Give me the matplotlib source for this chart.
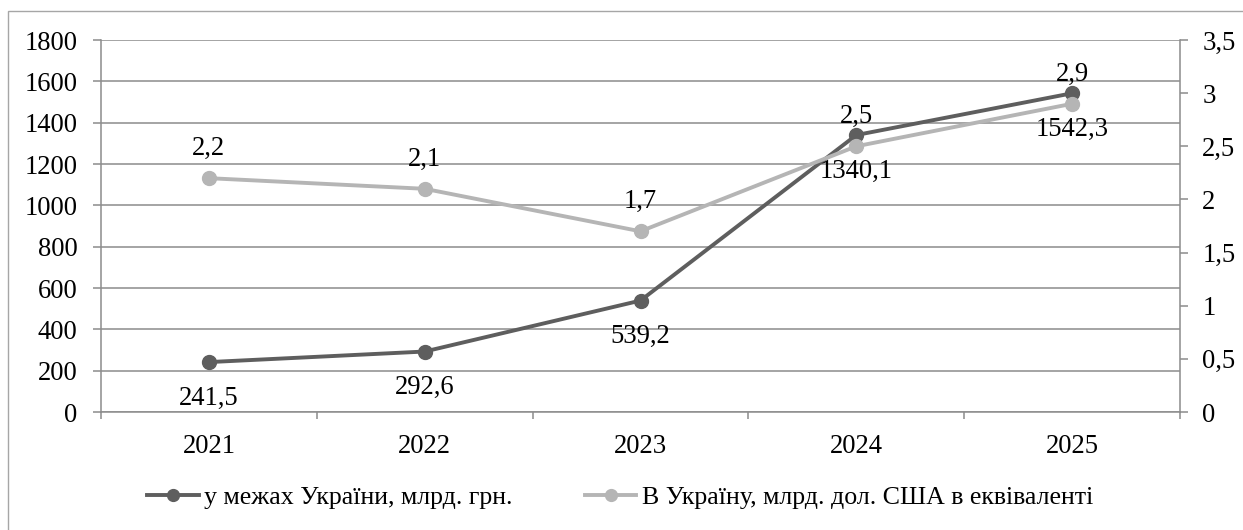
import matplotlib
matplotlib.use("Agg")
import matplotlib.pyplot as plt
from matplotlib.patches import Rectangle
from matplotlib.ticker import FixedLocator, FuncFormatter

plt.rcParams['font.family'] = ['Liberation Serif', 'DejaVu Serif']

years = ['2021', '2022', '2023', '2024', '2025']
uah_bn = [241.5, 292.6, 539.2, 1340.1, 1542.3]
usd_bn = [2.2, 2.1, 1.7, 2.5, 2.9]
left_ticks = [0, 200, 400, 600, 800, 1000, 1200, 1400, 1600, 1800]
right_ticks = [0, 0.5, 1, 1.5, 2, 2.5, 3, 3.5]

label_uah = 'у межах України, млрд. грн.'
label_usd = 'В Україну, млрд. дол. США в еквіваленті'

DARK = '#5e5e5e'
LIGHT = '#b5b5b5'
AXIS = '#8c8c8c'
FS = 19.2
FS_LEG = 18.6

W, H = 1243, 530
fig = plt.figure(figsize=(W / 100, H / 100), dpi=100)

# outer chart frame
fig.patches.append(Rectangle((8 / W, -0.05), 1.1, 1 - 11 / H + 0.05,
                             transform=fig.transFigure, fill=False,
                             edgecolor='#a6a6a6', linewidth=1.0))

ax = fig.add_axes([101 / W, 1 - 412 / H, (1180 - 101) / W, (412 - 40) / H])
ax2 = ax.twinx()

x = list(range(len(years)))

ax.plot(x, uah_bn, color=DARK, lw=2.8, marker='o', ms=10, zorder=3,
        label=label_uah)
ax2.plot(x, usd_bn, color=LIGHT, lw=2.8, marker='o', ms=10, zorder=3,
         label=label_usd)

ax.set_xlim(-0.5, len(years) - 0.5)
ax.set_ylim(0, 1800)
ax2.set_ylim(0, 3.5)

ax.set_yticks(left_ticks)
ax.set_yticklabels([str(v) for v in left_ticks])
ax2.yaxis.set_major_locator(FixedLocator(right_ticks))
ax2.yaxis.set_major_formatter(FuncFormatter(lambda v, p: f'{v:g}'.replace('.', ',')))

ax.set_xticks(x)
ax.set_xticklabels(years)
ax.xaxis.set_minor_locator(FixedLocator([i - 0.5 for i in range(len(years) + 1)]))

ax.grid(axis='y', color=AXIS, lw=1.1)
ax.set_axisbelow(True)

for a in (ax, ax2):
    for s in a.spines.values():
        s.set_visible(False)
ax.spines['left'].set_visible(True)
ax.spines['bottom'].set_visible(True)
ax2.spines['right'].set_visible(True)
for s in (ax.spines['left'], ax.spines['bottom'], ax2.spines['right']):
    s.set_color(AXIS)
    s.set_linewidth(1.1)

ax.tick_params(axis='y', length=6, width=1.1, color=AXIS, pad=11, labelsize=FS)
ax2.tick_params(axis='y', length=6, width=1.1, color=AXIS, pad=10, labelsize=FS)
ax.tick_params(axis='x', which='major', length=0, pad=16, labelsize=FS)
ax.tick_params(axis='x', which='minor', length=5, width=1.1, color=AXIS)

for xi, v in zip(x, uah_bn):
    ax.annotate(f'{v:.1f}'.replace('.', ','), (xi, v), xytext=(0, -26),
                textcoords='offset points', ha='center', va='center',
                fontsize=FS, zorder=5)
for xi, v in zip(x, usd_bn):
    ax2.annotate(f'{v:.1f}'.replace('.', ','), (xi, v), xytext=(0, 21.5),
                 textcoords='offset points', ha='center', va='center',
                 fontsize=FS, zorder=5)

h1, l1 = ax.get_legend_handles_labels()
h2, l2 = ax2.get_legend_handles_labels()
fig.legend(h1 + h2, l1 + l2, loc='center', bbox_to_anchor=(620 / W, 1 - 497 / H),
           ncol=2, frameon=False, fontsize=FS_LEG, handlelength=2.0,
           handletextpad=0.2, columnspacing=2.8, borderpad=0, markerscale=0.85)

fig.savefig('out.png', dpi=100)
